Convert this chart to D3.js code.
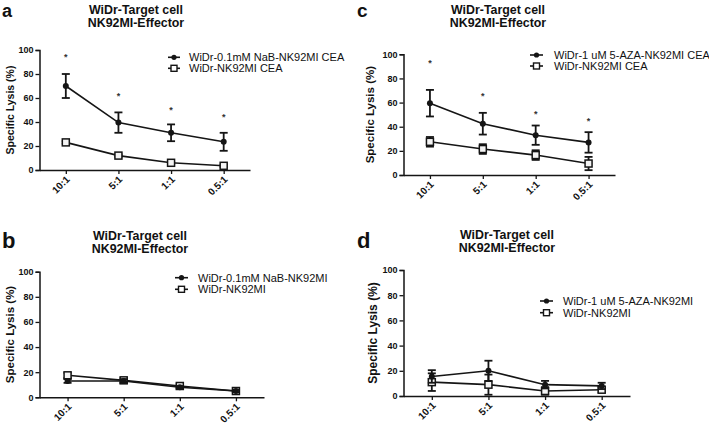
<!DOCTYPE html>
<html>
<head>
<meta charset="utf-8">
<script src="https://cdn.jsdelivr.net/npm/d3@7"></script>
<style>
  html, body { margin: 0; padding: 0; background: #fff; }
  svg { display: block; }
  text { font-family: "Liberation Sans", Arial, sans-serif; fill: #111; }
</style>
</head>
<body>
<svg id="chart" width="709" height="429"></svg>
<script>
// ---------------- DATA ----------------
const categories = ["10:1", "5:1", "1:1", "0.5:1"];
const yTicks = [0, 20, 40, 60, 80, 100];
const titleLines = ["WiDr-Target cell", "NK92MI-Effector"];
const yAxisTitle = "Specific Lysis (%)";

// Panel a
const aTreatedMean = [70, 39.5, 31, 23.5];
const aTreatedErr  = [10, 8.5, 7, 7.5];
const aControlMean = [23, 12, 6, 3.5];
const aControlErr  = [1, 1, 1, 1];
const aStars       = [96, 63, 52, 46];
const aLegend      = ["WiDr-0.1mM NaB-NK92MI CEA", "WiDr-NK92MI CEA"];

// Panel b
const bTreatedMean = [13, 13, 8, 5];
const bTreatedErr  = [1.5, 1.5, 1, 1];
const bControlMean = [17.5, 13.5, 9, 5];
const bControlErr  = [2, 2, 1.5, 1];
const bStars       = [];
const bLegend      = ["WiDr-0.1mM NaB-NK92MI", "WiDr-NK92MI"];

// Panel c
const cTreatedMean = [59.5, 42.5, 33, 27];
const cTreatedErr  = [11, 9, 8, 8.5];
const cControlMean = [27.5, 21.5, 16.5, 9.5];
const cControlErr  = [4, 4, 4, 5.5];
const cStars       = [94.5, 67, 52, 46];
const cLegend      = ["WiDr-1 uM 5-AZA-NK92MI CEA", "WiDr-NK92MI CEA"];

// Panel d
const dTreatedMean = [15.5, 20, 9, 8];
const dTreatedErr  = [5, 8, 3, 2.5];
const dControlMean = [11, 9, 4, 5];
const dControlErr  = [7, 8, 3, 2];
const dStars       = [];
const dLegend      = ["WiDr-1 uM 5-AZA-NK92MI", "WiDr-NK92MI"];

// ---------------- LAYOUT ----------------
const panels = [
  { letter: "a", tm: aTreatedMean, te: aTreatedErr, cm: aControlMean, ce: aControlErr, stars: aStars, legend: aLegend,
    x0: 39.5, x1: 250, y100: 50, y0: 170, letterX: 2, letterY: 16.5, letterSize: 18,
    titleX: 136, titleY: 14, yTitleX: 10, yTitleSize: 10.5,
    legY: 57.3, legGap: 11, legX0: 168, legX1: 180, legTextX: 189 },
  { letter: "b", tm: bTreatedMean, te: bTreatedErr, cm: bControlMean, ce: bControlErr, stars: bStars, legend: bLegend,
    x0: 39.5, x1: 264, y100: 271.7, y0: 397.3, letterX: 2, letterY: 248, letterSize: 22,
    titleX: 140, titleY: 240, yTitleX: 10, yTitleSize: 11.5,
    legY: 277.7, legGap: 11.6, legX0: 175, legX1: 188, legTextX: 198 },
  { letter: "c", tm: cTreatedMean, te: cTreatedErr, cm: cControlMean, ce: cControlErr, stars: cStars, legend: cLegend,
    x0: 403.5, x1: 615, y100: 54.3, y0: 175, letterX: 357, letterY: 16.5, letterSize: 19,
    titleX: 498, titleY: 14, yTitleX: 370, yTitleSize: 11.5,
    legY: 55, legGap: 11, legX0: 530, legX1: 543, legTextX: 554 },
  { letter: "d", tm: dTreatedMean, te: dTreatedErr, cm: dControlMean, ce: dControlErr, stars: dStars, legend: dLegend,
    x0: 403.5, x1: 630, y100: 270, y0: 396, letterX: 357, letterY: 248, letterSize: 22,
    titleX: 507, titleY: 239, yTitleX: 373, yTitleSize: 12,
    legY: 301, legGap: 11.7, legX0: 540, legX1: 553, legTextX: 563 }
];

const ink = "#151515";
const svg = d3.select("#chart");

panels.forEach(p => {
  const g = svg.append("g");
  const x = d3.scalePoint().domain(categories).range([p.x0, p.x1]).padding(0.5);
  const y = d3.scaleLinear().domain([0, 100]).range([p.y0, p.y100]);

  // panel letter
  g.append("text").attr("x", p.letterX).attr("y", p.letterY)
    .attr("font-size", p.letterSize).attr("font-weight", "bold").text(p.letter);

  // title
  const t = g.append("text").attr("x", p.titleX).attr("y", p.titleY)
    .attr("text-anchor", "middle").attr("font-size", 12.4).attr("font-weight", "bold");
  titleLines.forEach((l, i) => t.append("tspan").attr("x", p.titleX).attr("dy", i === 0 ? 0 : 13.2).text(l));

  // y axis
  const yAxis = d3.axisLeft(y).tickValues(yTicks).tickSize(4).tickPadding(2);
  const ya = g.append("g").attr("transform", `translate(${p.x0},0)`).call(yAxis);
  ya.select(".domain").attr("stroke", ink).attr("stroke-width", 1.5);
  ya.selectAll(".tick line").attr("stroke", ink).attr("stroke-width", 1.3);
  ya.selectAll(".tick text").attr("font-size", 9).attr("font-weight", "bold")
    .attr("font-family", "Liberation Sans, Arial, sans-serif").attr("fill", ink);

  // x axis
  const xAxis = d3.axisBottom(x).tickSize(4).tickSizeOuter(0).tickPadding(2);
  const xa = g.append("g").attr("transform", `translate(0,${p.y0})`).call(xAxis);
  xa.select(".domain").attr("stroke", ink).attr("stroke-width", 1.5);
  xa.selectAll(".tick line").attr("stroke", ink).attr("stroke-width", 1.3);
  xa.selectAll(".tick text").attr("font-size", 10).attr("font-weight", "bold")
    .attr("font-family", "Liberation Sans, Arial, sans-serif").attr("fill", ink)
    .attr("text-anchor", "end").attr("dy", null)
    .attr("transform", "translate(4,10) rotate(-45)").attr("y", 0).attr("x", 0);

  // y axis title
  g.append("text")
    .attr("transform", `translate(${p.yTitleX},${(p.y0 + p.y100) / 2}) rotate(-90)`)
    .attr("text-anchor", "middle").attr("dy", "0.35em")
    .attr("font-size", p.yTitleSize).attr("font-weight", "bold").text(yAxisTitle);

  const line = d3.line().x((d, i) => x(categories[i])).y(d => y(d));

  const drawSeries = (means, errs, square) => {
    g.append("path").datum(means).attr("d", line)
      .attr("fill", "none").attr("stroke", ink).attr("stroke-width", 1.6);
    means.forEach((m, i) => {
      const cx = x(categories[i]);
      const e = errs[i];
      g.append("line").attr("x1", cx).attr("x2", cx).attr("y1", y(m - e)).attr("y2", y(m + e))
        .attr("stroke", ink).attr("stroke-width", 1.8);
      [m - e, m + e].forEach(v => g.append("line")
        .attr("x1", cx - 4).attr("x2", cx + 4).attr("y1", y(v)).attr("y2", y(v))
        .attr("stroke", ink).attr("stroke-width", 1.8));
    });
    means.forEach((m, i) => {
      const cx = x(categories[i]);
      if (square) {
        g.append("rect").attr("x", cx - 3.5).attr("y", y(m) - 3.5).attr("width", 7).attr("height", 7)
          .attr("fill", "#f4f4f4").attr("stroke", ink).attr("stroke-width", 1.5);
      } else {
        g.append("circle").attr("cx", cx).attr("cy", y(m)).attr("r", 3).attr("fill", ink);
      }
    });
  };
  drawSeries(p.cm, p.ce, true);
  drawSeries(p.tm, p.te, false);

  // significance stars
  p.stars.forEach((v, i) => {
    g.append("text").attr("x", x(categories[i])).attr("y", y(v) + 5)
      .attr("text-anchor", "middle").attr("font-size", 9).attr("font-weight", "bold")
      .style("fill", "#333").text("*");
  });

  // legend
  p.legend.forEach((label, i) => {
    const ly = p.legY + i * p.legGap;
    const mx = (p.legX0 + p.legX1) / 2;
    g.append("line").attr("x1", p.legX0).attr("x2", p.legX1).attr("y1", ly).attr("y2", ly)
      .attr("stroke", ink).attr("stroke-width", 1.6);
    if (i === 1) {
      g.append("rect").attr("x", mx - 3).attr("y", ly - 3).attr("width", 6).attr("height", 6)
        .attr("fill", "#fff").attr("stroke", ink).attr("stroke-width", 1.4);
    } else {
      g.append("circle").attr("cx", mx).attr("cy", ly).attr("r", 2.6).attr("fill", ink);
    }
    g.append("text").attr("x", p.legTextX).attr("y", ly).attr("dy", "0.35em")
      .attr("font-size", 11).attr("fill", "#222").text(label);
  });
});
</script>
</body>
</html>
